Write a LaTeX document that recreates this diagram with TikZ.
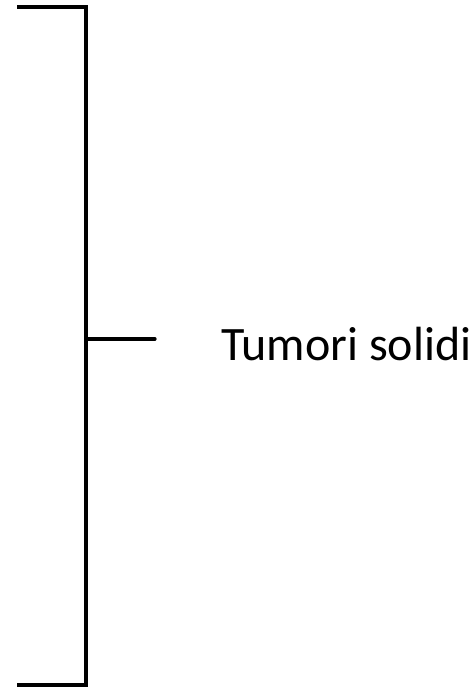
\documentclass[tikz,border=0pt]{standalone}
\usepackage{fontspec}
\setmainfont{Carlito}
\begin{document}
\begin{tikzpicture}[x=1pt,y=-1pt,
  bracket/.style={line width=3.2pt,black,line join=miter},
  tickline/.style={line width=3.2pt,black,line cap=round},
  labeltext/.style={anchor=base west,inner sep=0pt,font=\fontsize{48}{58}\selectfont}]
\useasboundingbox (0,0) rectangle (470,687);
\coordinate (tl) at (17,7);
\coordinate (tr) at (86,7);
\coordinate (br) at (86,685);
\coordinate (bl) at (17,685);
\coordinate (mid) at (86,339);
\coordinate (tickend) at (155,339);
\draw[bracket] (tl) -- (tr) -- (br) -- (bl);
\draw[tickline] (mid) -- (tickend);
\node[labeltext] (label) at (221,360) {Tumori solidi};
\end{tikzpicture}
\end{document}
